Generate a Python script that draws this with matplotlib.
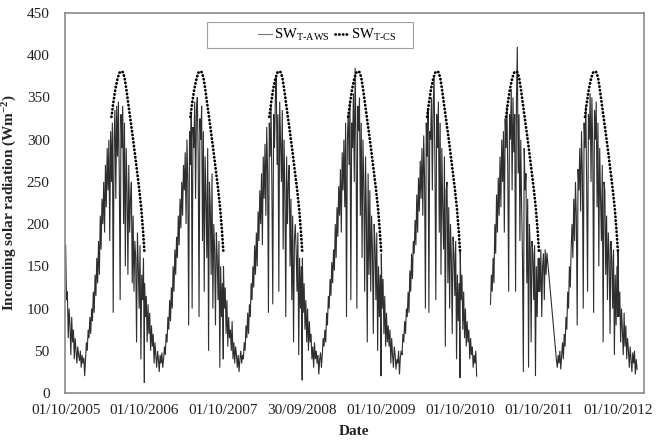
import matplotlib
matplotlib.use("Agg")
import matplotlib.pyplot as plt
from matplotlib.patches import Rectangle
from matplotlib.lines import Line2D

plt.rcParams['font.family'] = ['Liberation Serif', 'DejaVu Serif']
plt.rcParams['mathtext.fontset'] = 'custom'
plt.rcParams['mathtext.rm'] = 'Liberation Serif'
plt.rcParams['mathtext.it'] = 'Liberation Serif:italic'
plt.rcParams['mathtext.bf'] = 'Liberation Serif:bold'

# ---------------- data ----------------
tick_labels = ["01/10/2005", "01/10/2006", "01/10/2007", "30/09/2008",
               "01/10/2009", "01/10/2010", "01/10/2011", "01/10/2012"]
season_length_days = 365
sample_step_days = 4

# SW_T-AWS, every 4 days from 1 October of each season
# (None = missing record, line broken; values in the Nov 2011 hole are joined)
aws_2005 = [175, 110, 120, 65, 100, 80, 45, 90,
            60, 75, 40, 65, 50, 35, 55, 45,
            38, 50, 30, 45, 35, 42, 20,
            40, 60, 50, 75, 65, 90, 70, 100,
            85, 120, 95, 140, 115, 160, 130,
            180, 140, 210, 170, 230, 200, 250, 190,
            270, 220, 290, 240, 300, 180, 310,
            250, 320, 95, 300, 335, 230, 340, 280,
            345, 260, 110, 330, 290, 340, 200,
            320, 150, 290, 240, 140, 270, 190, 230,
            250, 130, 210, 120, 180, 160, 60, 190,
            150, 100, 175, 40, 140, 110, 160, 12]
aws_2006 = [130, 90, 115, 60, 105, 70, 95, 50,
            80, 55, 70, 35, 60, 45, 30, 50,
            40, 25, 45, 35, 48, 30, 40,
            55, 45, 70, 60, 90, 75, 110, 85,
            125, 100, 150, 120, 170, 140, 185,
            160, 210, 175, 230, 195, 250, 210, 270,
            240, 285, 200, 300, 250, 80, 310,
            270, 330, 100, 315, 290, 345, 230, 335,
            350, 280, 90, 325, 300, 340, 180,
            310, 120, 280, 230, 160, 290, 50, 250,
            220, 140, 260, 100, 200, 170, 80, 190,
            160, 110, 180, 30, 150, 90, 130, 40]
aws_2007 = [150, 100, 125, 70, 110, 55, 90, 65,
            75, 50, 85, 40, 60, 35, 55, 45,
            30, 45, 25, 40, 50, 35, 45,
            40, 60, 50, 80, 65, 95, 70, 105,
            90, 130, 110, 150, 125, 175, 140,
            190, 150, 215, 180, 240, 200, 260, 175,
            280, 230, 295, 210, 315, 260, 95,
            320, 280, 340, 240, 105, 330, 290, 350,
            375, 270, 330, 120, 345, 300, 250,
            335, 170, 300, 240, 90, 280, 200, 250,
            270, 150, 230, 110, 210, 60, 180, 200,
            170, 120, 190, 45, 160, 100, 150, 15]
aws_2008 = [160, 95, 130, 75, 110, 60, 100, 50,
            85, 60, 70, 40, 55, 30, 60, 40,
            50, 35, 45, 22, 40, 48, 30,
            45, 65, 55, 75, 60, 95, 80, 115,
            100, 135, 115, 155, 130, 170, 145,
            200, 160, 220, 185, 245, 210, 265, 190,
            285, 240, 300, 220, 320, 90, 300,
            330, 270, 345, 110, 320, 290, 355, 250,
            385, 300, 100, 340, 310, 350, 210,
            320, 160, 300, 250, 120, 280, 210, 60,
            260, 140, 240, 120, 210, 170, 70, 200,
            175, 110, 190, 50, 150, 90, 140, 20]
aws_2009 = [165, 100, 135, 70, 115, 55, 95, 60,
            80, 55, 75, 35, 65, 45, 30, 55,
            45, 28, 40, 35, 50, 22, 42,
            50, 45, 70, 60, 85, 70, 100, 90,
            120, 95, 145, 120, 165, 135, 180,
            165, 205, 175, 235, 190, 255, 215, 275,
            230, 290, 210, 305, 255, 100, 320,
            280, 335, 95, 310, 300, 350, 240, 340,
            375, 270, 110, 330, 290, 345, 190,
            320, 140, 290, 220, 170, 280, 55, 240,
            250, 130, 220, 100, 200, 160, 70, 185,
            165, 115, 180, 40, 140, 85, 130, 18]
aws_2010 = [170, 110, 140, 75, 120, 65, 100, 55,
            85, 60, 75, 40, 65, 45, 55, 30,
            45, 35, 50, 20, None, None, None,
            None, None, None, None, None, None, None, None,
            None, None, None, None, 105, 140, 120,
            160, 130, 200, 165, 235, 190, 255, 210,
            280, 220, 300, 250, 310, 190, 325,
            290, 340, 260, 120, 330, 300, 360, 240,
            350, 285, 330, 120, 345, 410, 260,
            330, 180, 300, 220, 160, 25, 290, 240,
            260, 130, 230, 30, 200, 170, 60, 180,
            165, 110, 175, 20, 150, 90, 160, 120]
aws_2011 = [160, 120, 170, 90, 150, 165, 110, 170,
            140, 166, 'gap', 'gap', 'gap', 'gap', 'gap', 'gap',
            'gap', 'gap', 'gap', 'gap', 39, 30, 45,
            35, 50, 28, 45, 60, 40, 70, 55,
            90, 75, 120, 100, 150, 125, 170,
            200, 160, 230, 180, 250, 210, 80, 265,
            240, 290, 215, 310, 260, 100, 320,
            290, 340, 240, 120, 330, 300, 355, 250,
            350, 290, 95, 335, 300, 345, 220,
            320, 150, 290, 230, 180, 270, 60, 250,
            240, 140, 210, 110, 190, 160, 70, 180,
            160, 100, 170, 45, 140, 80, 150, 90]
aws_2012 = [170, 90, 120, 60, 100, 75, 45, 95,
            55, 80, 40, 65, 50, 30, 55, 40,
            25, 48, 35, 50, 22, 40, 28]
aws_seasons = [aws_2005, aws_2006, aws_2007, aws_2008,
               aws_2009, aws_2010, aws_2011, aws_2012]

# SW_T-CS (clear sky), days since 1 October of each season
cs_days = [212, 220, 230, 240, 248, 256, 264, 272, 280, 290,
           300, 310, 320, 330, 340, 350, 358, 365]
cs_values = [327, 343, 360, 372, 379, 381, 380, 374, 361, 342,
             323, 304, 284, 263, 242, 218, 192, 165]
cs_seasons = 7

# ---------------- build series ----------------
aws_x, aws_y = [], []
for k, season in enumerate(aws_seasons):
    for i, v in enumerate(season):
        if v == 'gap':
            continue            # joined across by the line
        aws_x.append(k * season_length_days + i * sample_step_days)
        aws_y.append(float('nan') if v is None else v)

# ---------------- figure ----------------
fig = plt.figure(figsize=(6.61, 4.40), dpi=100)
ax = fig.add_axes([65 / 661, 47 / 440, 579 / 661, 380 / 440])

ax.plot(aws_x, aws_y, color='#2e2e2e', lw=0.8, solid_joinstyle='miter',
        clip_on=False)
for k in range(cs_seasons):
    ax.plot([k * season_length_days + d for d in cs_days], cs_values,
            color='black', lw=2.0, linestyle=(0, (0.1, 1.25)),
            dash_capstyle='round')

ax.set_xlim(-3, 2675)
ax.set_ylim(0, 450)
ax.set_yticks(range(0, 451, 50))
ax.set_xticks([k * season_length_days for k in range(len(tick_labels))])
ax.set_xticklabels(tick_labels)
ax.tick_params(axis='both', length=0, labelsize=11, colors='#222222')
ax.tick_params(axis='x', pad=8)
ax.tick_params(axis='y', pad=11)
for s in ax.spines.values():
    s.set_color('#8a8a8a')
    s.set_linewidth(1.2)

ax.set_ylabel('Incoming solar radiation (Wm$^{\\mathbf{-2}}$)', fontsize=11,
              fontweight='bold', labelpad=6, color='#222222')
ax.set_xlabel('Date', fontsize=11, fontweight='bold', labelpad=6, color='#222222')

# legend box
ax.add_patch(Rectangle((0.245, 0.908), 0.356, 0.068, transform=ax.transAxes,
                       facecolor='white', edgecolor='#a0a0a0', lw=0.8,
                       zorder=5))
handles = [Line2D([], [], color='#777777', lw=0.8),
           Line2D([], [], color='black', lw=2.0, linestyle=(0, (0.1, 1.25)),
                  dash_capstyle='round')]
labels = [r'SW$_{\mathrm{T\text{-}AWS}}$', r'SW$_{\mathrm{T\text{-}CS}}$']
leg = ax.legend(handles, labels, loc='center left',
                bbox_to_anchor=(0.318, 0.942), ncol=2, frameon=False,
                fontsize=10.5, handlelength=0.95, handletextpad=0.15,
                columnspacing=0.35, borderpad=0.1)
leg.set_zorder(6)

fig.savefig('out.png', dpi=100)
